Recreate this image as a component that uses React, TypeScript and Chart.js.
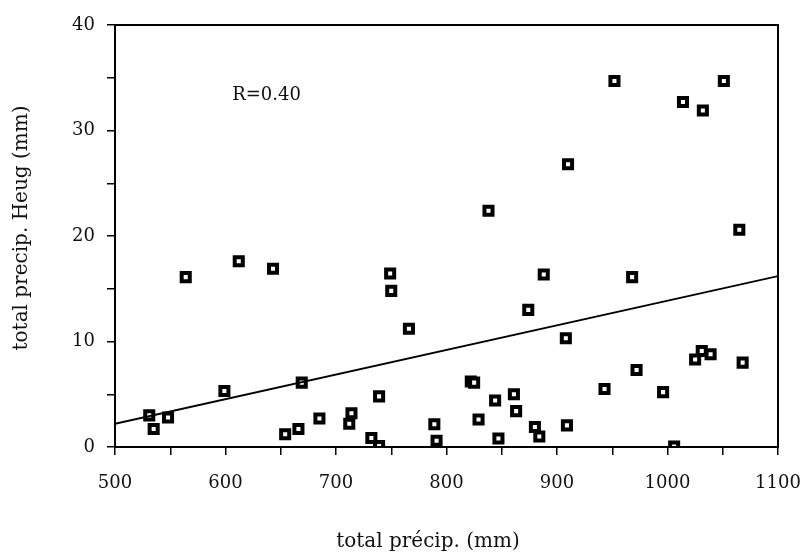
import React, { useEffect, useRef } from "react";
import { Chart, registerables } from "chart.js";

Chart.register(...registerables);

const precipX = [
  531, 535, 548, 564, 612, 643, 599, 669, 654, 666, 685, 712, 714, 732, 739, 739,
  749, 750, 766, 789, 791, 888, 968, 874, 908, 822, 825, 844, 861, 863, 829, 847,
  880, 884, 909, 943, 972, 996, 1006, 1025, 1031, 1039, 1068, 952, 1051, 1014, 1032,
  910, 838, 1065,
];
const precipHeug = [
  3.0, 1.7, 2.8, 16.1, 17.6, 16.9, 5.3, 6.1, 1.2, 1.7, 2.7, 2.2, 3.2, 0.85, 0.1, 4.8,
  16.45, 14.8, 11.2, 2.15, 0.6, 16.35, 16.1, 13.0, 10.3, 6.2, 6.1, 4.4, 5.0, 3.4, 2.6, 0.8,
  1.9, 1.0, 2.05, 5.5, 7.3, 5.2, 0.05, 8.3, 9.1, 8.8, 8.0, 34.7, 34.7, 32.7, 31.9,
  26.8, 22.4, 20.6,
];
const fitX = [500, 1100];
const fitY = [2.2, 16.2];
const rLabel = "R=0.40";
const xTitle = "total précip. (mm)";
const yTitle = "total precip. Heug (mm)";

const FONT = "'DejaVu Serif', serif";

export default function App() {
  const ref = useRef<HTMLCanvasElement | null>(null);
  useEffect(() => {
    if (!ref.current) return;
    const boxPlugin = {
      id: "box",
      afterDatasetsDraw(chart: any) {
        const { ctx, chartArea: a, scales } = chart;
        ctx.save();
        ctx.strokeStyle = "#000";
        ctx.lineWidth = 2;
        ctx.strokeRect(a.left, a.top, a.right - a.left, a.bottom - a.top);
        ctx.fillStyle = "#111";
        ctx.font = "18px " + FONT;
        ctx.textBaseline = "middle";
        ctx.textAlign = "left";
        ctx.fillText(rLabel, scales.x.getPixelForValue(606), scales.y.getPixelForValue(33.3));
        // axis titles
        ctx.font = "20px " + FONT;
        ctx.textAlign = "center";
        ctx.fillText(xTitle, a.left + 313, a.bottom + 95);
        ctx.translate(22, a.top + 203);
        ctx.rotate(-Math.PI / 2);
        ctx.fillText(yTitle, 0, 0);
        ctx.restore();
      },
    };
    const chart = new Chart(ref.current, {
      type: "scatter",
      data: {
        datasets: [
          {
            type: "line",
            data: fitX.map((x, i) => ({ x, y: fitY[i] })),
            borderColor: "#000",
            borderWidth: 1.8,
            pointRadius: 0,
            fill: false,
          } as any,
          {
            data: precipX.map((x, i) => ({ x, y: precipHeug[i] })),
            pointStyle: "rect",
            pointRadius: 5.7,
            pointBorderWidth: 4,
            pointBorderColor: "#000",
            pointBackgroundColor: "#fff",
            borderColor: "#000",
            backgroundColor: "#fff",
          },
        ],
      },
      plugins: [boxPlugin],
      options: {
        animation: false,
        responsive: false,
        events: [],
        layout: { padding: { left: 0, top: 25, right: 24, bottom: 0 } },
        plugins: { legend: { display: false }, tooltip: { enabled: false } },
        scales: {
          x: {
            type: "linear",
            min: 500,
            max: 1100,
            afterFit: (s: any) => {
              s.height = 111;
              s.paddingRight = 0;
              s.paddingLeft = 0;
            },
            ticks: {
              stepSize: 50,
              autoSkip: false,
              maxRotation: 0,
              padding: 18,
              color: "#111",
              font: { family: FONT, size: 18 },
              callback: (v: any) => (Number(v) % 100 === 0 ? String(v) : ""),
            },
            grid: { drawOnChartArea: false, tickLength: 8, color: "#000", lineWidth: 1.5 },
            border: { color: "#000", width: 2 },
          },
          y: {
            type: "linear",
            min: 0,
            max: 40,
            afterFit: (s: any) => {
              s.width = 115;
              s.paddingTop = 0;
              s.paddingBottom = 0;
            },
            ticks: {
              stepSize: 5,
              autoSkip: false,
              padding: 12,
              color: "#111",
              font: { family: FONT, size: 18 },
              callback: (v: any) => (Number(v) % 10 === 0 ? String(v) : ""),
            },
            grid: { drawOnChartArea: false, tickLength: 8, color: "#000", lineWidth: 1.5 },
            border: { color: "#000", width: 2 },
          },
        },
      },
    });
    return () => chart.destroy();
  }, []);
  return (
    <div style={{ position: "fixed", left: 0, top: 0, width: 802, height: 558, background: "#fff" }}>
      <canvas ref={ref} width={802} height={558} style={{ display: "block" }} />
    </div>
  );
}
